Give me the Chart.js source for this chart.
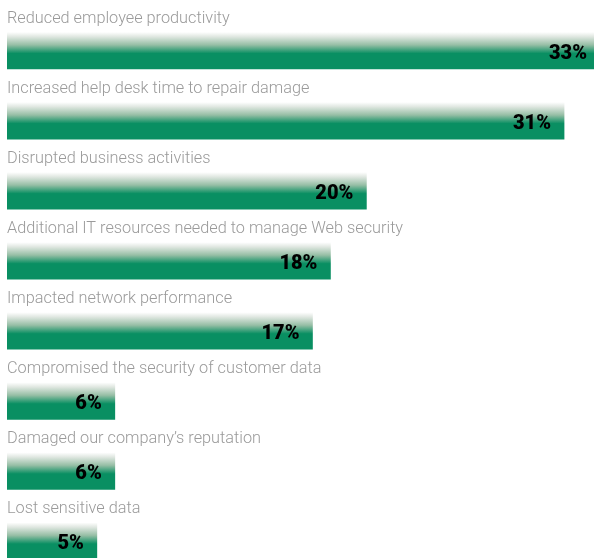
<!DOCTYPE html>
<html>
<head>
<meta charset="utf-8">
<script src="https://cdn.jsdelivr.net/npm/chart.js@4.4.0/dist/chart.umd.min.js"></script>
<style>
  html, body { margin: 0; padding: 0; background: #fff; overflow: hidden; }
  #wrap { position: relative; width: 600px; height: 576px; }
</style>
</head>
<body>
<div id="wrap"><canvas id="impactChart"></canvas></div>
<script>
const categories = [
    'Reduced employee productivity',
    'Increased help desk time to repair damage',
    'Disrupted business activities',
    'Additional IT resources needed to manage Web security',
    'Impacted network performance',
    'Compromised the security of customer data',
    'Damaged our company\u2019s reputation',
    'Lost sensitive data'
];
const percentages = [33, 31, 20, 18, 17, 6, 6, 5];

const GREEN = 'rgb(9, 143, 98)';
const BAR_H = 37;

// Gradiente verticale per ogni barra: bianco in alto, verde in basso
function barGradient(context) {
    const chart = context.chart;
    const yScale = chart.scales.y;
    if (!chart.chartArea || !yScale) return GREEN;
    const yc = yScale.getPixelForValue(context.dataIndex);
    const g = chart.ctx.createLinearGradient(0, yc - BAR_H / 2, 0, yc + BAR_H / 2);
    g.addColorStop(0, 'rgba(255,255,255,1)');
    g.addColorStop(0.12, 'rgb(225, 232, 226)');
    g.addColorStop(0.35, 'rgb(150, 190, 165)');
    g.addColorStop(0.58, GREEN);
    g.addColorStop(1, GREEN);
    return g;
}

// Etichette sopra le barre e valori dentro le barre
const labelPlugin = {
    id: 'barLabels',
    afterDatasetsDraw(chart) {
        const ctx = chart.ctx;
        const meta = chart.getDatasetMeta(0);
        ctx.save();
        meta.data.forEach((bar, i) => {
            ctx.font = '300 16.3px Roboto';
            ctx.fillStyle = '#9a9a9a';
            ctx.textAlign = 'left';
            ctx.textBaseline = 'alphabetic';
            ctx.fillText(categories[i], chart.chartArea.left, bar.y - BAR_H / 2 - 9);

            ctx.font = '900 20px Roboto';
            ctx.fillStyle = '#000';
            ctx.textAlign = 'right';
            ctx.textBaseline = 'middle';
            ctx.fillText(percentages[i] + '%', bar.x - 13, bar.y + 3);
        });
        ctx.restore();
    }
};

new Chart(document.getElementById('impactChart'), {
    type: 'bar',
    data: {
        labels: categories,
        datasets: [{
            data: percentages,
            backgroundColor: barGradient,
            borderWidth: 0,
            barThickness: BAR_H
        }]
    },
    options: {
        indexAxis: 'y',
        responsive: true,
        maintainAspectRatio: false,
        animation: false,
        layout: { padding: { left: 7, right: 0, top: 15.5, bottom: 0 } },
        plugins: {
            legend: { display: false },
            tooltip: { enabled: false }
        },
        scales: {
            x: { display: false, min: 0, max: 33 },
            y: { display: false }
        }
    },
    plugins: [labelPlugin]
});
</script>
</body>
</html>
